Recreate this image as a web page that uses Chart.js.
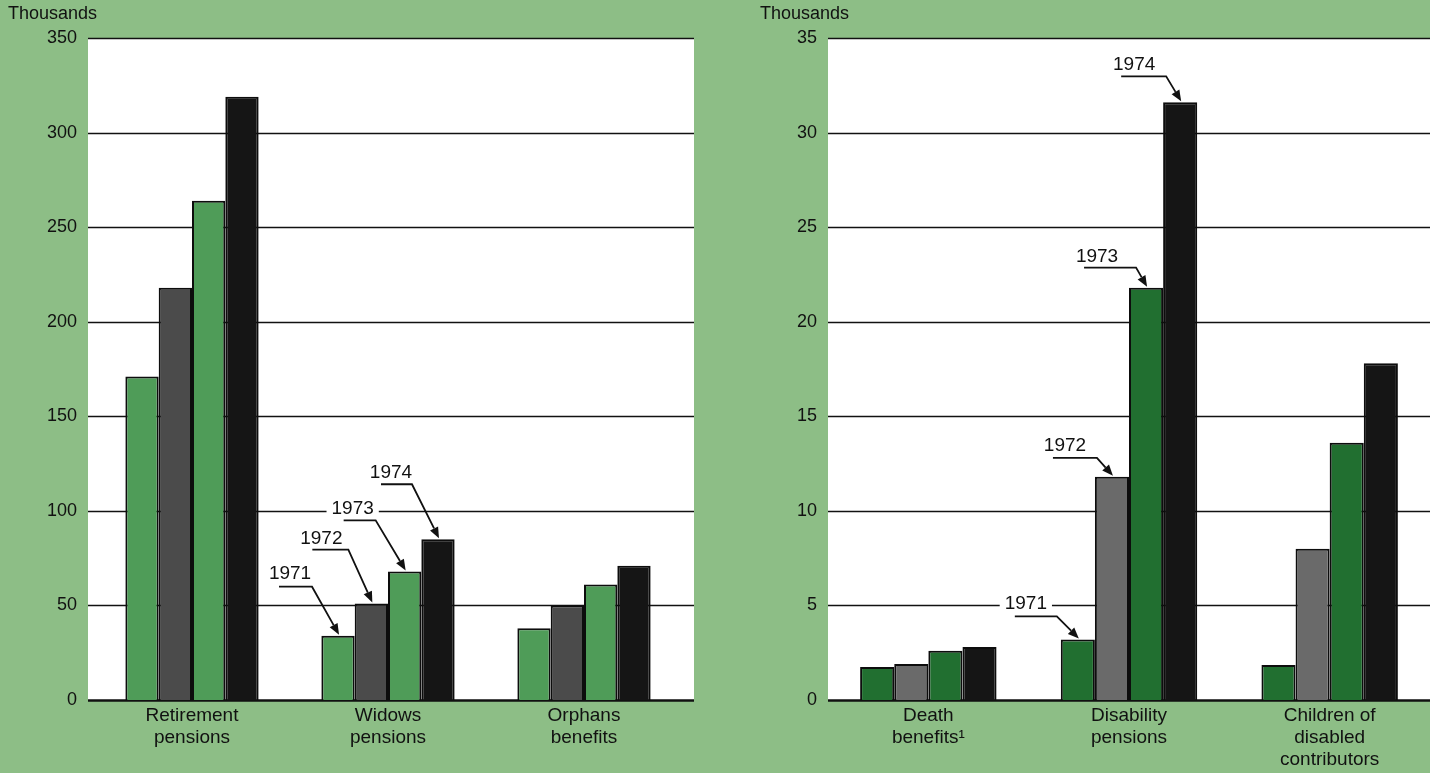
<!DOCTYPE html>
<html>
<head>
<meta charset="utf-8">
<script src="https://cdn.jsdelivr.net/npm/chart.js@4.4.1/dist/chart.umd.min.js"></script>
<style>
  html, body { margin: 0; padding: 0; background: #8dbe86; width: 1430px; height: 773px; overflow: hidden; }
  canvas { position: absolute; top: 0; }
  #leftChart { left: 0; }
  #rightChart { left: 740px; }
</style>
</head>
<body>
<canvas id="leftChart" width="710" height="773"></canvas>
<canvas id="rightChart" width="690" height="773"></canvas>
<script>
// data (thousands)
const years = ['1971', '1972', '1973', '1974']

const leftCategories = [['Retirement', 'pensions'], ['Widows', 'pensions'], ['Orphans', 'benefits']]
const left1971 = [171, 34, 38]
const left1972 = [218, 51, 50]
const left1973 = [264, 68, 61]
const left1974 = [319, 85, 71]
const leftMax = 350
const leftStep = 50

const rightCategories = [['Death', 'benefits\u00b9'], ['Disability', 'pensions'], ['Children of', 'disabled', 'contributors']]
const right1971 = [1.75, 3.2, 1.85]
const right1972 = [1.9, 11.8, 8.0]
const right1973 = [2.6, 21.8, 13.6]
const right1974 = [2.8, 31.6, 17.8]
const rightMax = 35
const rightStep = 5

const FONT = "'Liberation Sans', Arial, Helvetica, sans-serif"
const INK = '#111111'

// white plot area, grid lines (a bit wider than the bar area) and "Thousands" heading
const panelPlugin = {
    id: 'panel',
    beforeDraw(chart, args, opts) {
        const a = chart.chartArea
        const ctx = chart.ctx
        ctx.save()
        ctx.fillStyle = '#ffffff'
        ctx.fillRect(a.left - opts.extL, a.top, a.right - a.left + opts.extL + opts.extR, a.bottom - a.top)
        ctx.fillStyle = INK
        ctx.font = '18px ' + FONT
        ctx.textBaseline = 'middle'
        ctx.textAlign = 'left'
        ctx.fillText('Thousands', opts.headX, 14)
        ctx.restore()
    },
    beforeDatasetsDraw(chart, args, opts) {
        const a = chart.chartArea
        const y = chart.scales.y
        const ctx = chart.ctx
        ctx.save()
        ctx.strokeStyle = '#111'
        y.ticks.forEach(t => {
            const py = Math.round(y.getPixelForValue(t.value)) + 0.5
            ctx.lineWidth = t.value === 0 ? 2.5 : 1.6
            ctx.beginPath()
            ctx.moveTo(a.left - opts.extL, py)
            ctx.lineTo(a.right + opts.extR, py)
            ctx.stroke()
        })
        ctx.restore()
    }
}

// year labels with arrows pointing at one group of bars
const arrowPlugin = {
    id: 'yearArrows',
    afterDatasetsDraw(chart, args, opts) {
        if (!opts.items) return
        const ctx = chart.ctx
        ctx.save()
        opts.items.forEach((it, di) => {
            const bar = chart.getDatasetMeta(di).data[opts.index]
            const tx = bar.x + 1
            const ty = bar.y - 1
            const ang = Math.atan2(-it.ly, -it.x1)
            const hl = 11
            const ex = tx - hl * Math.cos(ang)
            const ey = ty - hl * Math.sin(ang)
            ctx.strokeStyle = '#111'
            ctx.fillStyle = '#111'
            ctx.lineWidth = 1.8
            ctx.beginPath()
            ctx.moveTo(tx + it.x0, ty + it.ly)
            ctx.lineTo(tx + it.x1, ty + it.ly)
            ctx.lineTo(ex, ey)
            ctx.stroke()
            ctx.beginPath()
            ctx.moveTo(tx, ty)
            ctx.lineTo(ex - 4.5 * Math.sin(ang), ey + 4.5 * Math.cos(ang))
            ctx.lineTo(ex + 4.5 * Math.sin(ang), ey - 4.5 * Math.cos(ang))
            ctx.closePath()
            ctx.fill()

            ctx.font = '19px ' + FONT
            const label = years[di]
            const w = ctx.measureText(label).width
            ctx.fillStyle = '#ffffff'
            ctx.fillRect(tx + it.tx - w / 2 - 5, ty + it.ty - 9, w + 10, 18)
            ctx.fillStyle = INK
            ctx.textAlign = 'center'
            ctx.textBaseline = 'middle'
            ctx.fillText(label, tx + it.tx, ty + it.ty)
        })
        ctx.restore()
    }
}

function makeChart(id, labels, series, colors, max, step, panel, axisWidth, padRight, tickPad, arrows) {
    const ctx = document.getElementById(id)
    return new Chart(ctx, {
        type: 'bar',
        data: {
            labels: labels,
            datasets: series.map((s, i) => ({
                label: years[i],
                data: s,
                backgroundColor: colors[i],
                borderColor: '#0d0d0d',
                borderWidth: 2,
                borderSkipped: 'bottom',
                categoryPercentage: 0.68,
                barPercentage: 1.0
            }))
        },
        options: {
            responsive: false,
            animation: false,
            layout: { padding: { top: 38, right: padRight, left: 0, bottom: 0 } },
            plugins: {
                legend: { display: false },
                tooltip: { enabled: false },
                panel: panel,
                yearArrows: arrows
            },
            scales: {
                x: {
                    grid: { display: false, drawTicks: false },
                    border: { display: false },
                    ticks: { color: INK, padding: 5, font: { family: FONT, size: 19, lineHeight: 1.15 }, maxRotation: 0, autoSkip: false },
                    afterFit(scale) { scale.height = 73 }
                },
                y: {
                    min: 0,
                    max: max,
                    ticks: { stepSize: step, color: INK, padding: tickPad, font: { family: FONT, size: 18 } },
                    grid: { display: false, drawTicks: false },
                    border: { display: false },
                    afterFit(scale) { scale.width = axisWidth }
                }
            }
        },
        plugins: [panelPlugin, arrowPlugin]
    })
}

makeChart('leftChart', leftCategories, [left1971, left1972, left1973, left1974],
    ['#4f9c58', '#4b4b4b', '#4f9c58', '#151515'], leftMax, leftStep,
    { headX: 8, extL: 6, extR: 12 }, 94, 28, 17, {
        index: 1,
        items: [
            { tx: -49, ty: -61, x0: -60, x1: -27, ly: -48 },
            { tx: -51, ty: -64, x0: -60, x1: -24, ly: -53 },
            { tx: -53, ty: -62, x0: -62, x1: -30, ly: -50 },
            { tx: -48, ty: -65, x0: -58, x1: -27, ly: -54 }
        ]
    })

makeChart('rightChart', rightCategories, [right1971, right1972, right1973, right1974],
    ['#216f30', '#6a6a6a', '#216f30', '#151515'], rightMax, rightStep,
    { headX: 20, extL: 0, extR: 0 }, 88, 0, 11, {
        index: 1,
        items: [
            { tx: -53, ty: -35, x0: -64, x1: -22, ly: -22 },
            { tx: -48, ty: -30, x0: -60, x1: -16, ly: -18 },
            { tx: -50, ty: -30, x0: -63, x1: -11, ly: -19 },
            { tx: -47, ty: -37, x0: -60, x1: -15, ly: -25 }
        ]
    })
</script>
</body>
</html>
